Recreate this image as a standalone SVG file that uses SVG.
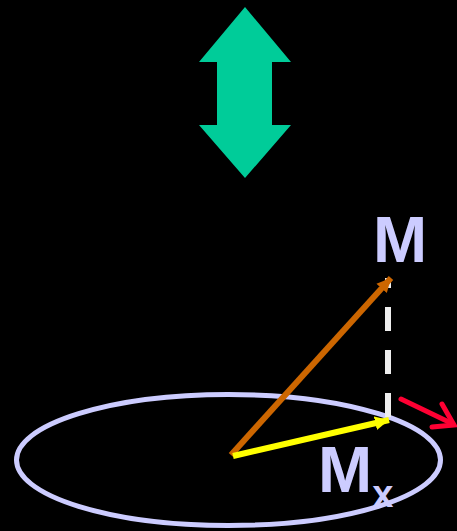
<svg xmlns="http://www.w3.org/2000/svg" width="457" height="531" viewBox="0 0 457 531">
<style>
.lbl{font-family:"Liberation Sans",Arial,sans-serif;font-weight:bold;fill:#CCCCFF}
</style>
<defs>
<marker id="hOr" markerUnits="userSpaceOnUse" markerWidth="16" markerHeight="16" refX="14" refY="8" orient="auto"><path d="M0,1 L14,8 L0,15 z" fill="#CC6600"/></marker>
<marker id="hYe" markerUnits="userSpaceOnUse" markerWidth="16" markerHeight="16" refX="14" refY="8" orient="auto"><path d="M0,1 L14,8 L0,15 z" fill="#FFFF00"/></marker>
</defs>
<rect width="457" height="531" fill="#000"/>
<g id="doubleArrow">
<path d="M245,7 L291,62 L272,62 L272,125 L291,125 L245,178 L199,125 L217,125 L217,62 L199,62 Z" fill="#00CC99"/>
</g>
<g id="orbit">
<ellipse cx="228.5" cy="460" rx="212" ry="65.5" fill="none" stroke="#CCCCFF" stroke-width="5"/>
</g>
<g id="connectors">
<line x1="388" y1="417" x2="388" y2="278" stroke="#EEEEEE" stroke-width="6" stroke-dasharray="24 19"/>
<line x1="231" y1="455" x2="391" y2="278" stroke="#CC6600" stroke-width="6" marker-end="url(#hOr)"/>
<line x1="233" y1="456" x2="389" y2="420" stroke="#FFFF00" stroke-width="6" marker-end="url(#hYe)"/>
<g fill="none" stroke="#FF0033" stroke-width="5" stroke-linecap="round">
<line x1="401" y1="399" x2="453" y2="424"/>
<polyline points="442,404 454,425 432,427"/>
</g>
</g>
<g id="labelM"><text class="lbl" x="373" y="262" font-size="65">M</text></g>
<g id="labelMx"><text class="lbl" x="318" y="492" font-size="65">M<tspan font-size="38" dy="15">x</tspan></text></g>
</svg>
